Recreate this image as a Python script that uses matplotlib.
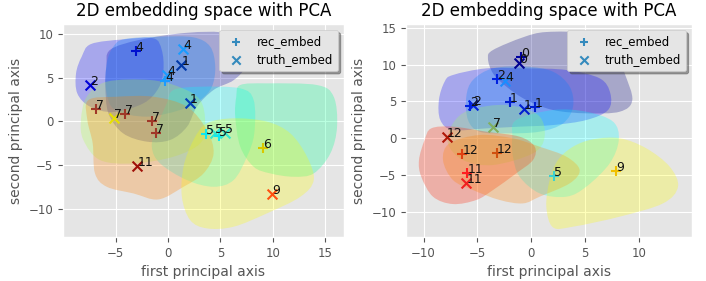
import numpy as np
import matplotlib.pyplot as plt
from matplotlib.path import Path
from matplotlib.patches import PathPatch

plt.style.use('ggplot')

# ---- left panel data ----
left_x = [-3.1, 1.45, 1.25, -0.1, -0.3, -7.45, 2.05, -6.9, -5.2, -4.15, -1.5, -1.2,
          3.6, 4.5, 4.9, 5.4, 9.05, -2.95, 9.9]
left_y = [8.0, 8.3, 6.4, 5.3, 4.6, 4.2, 2.15, 1.4, 0.35, 0.85, 0.0, -1.35,
          -1.42, -1.27, -1.65, -1.27, -3.0, -5.05, -8.2]
left_kind = ['rec', 'truth', 'truth', 'truth', 'rec', 'truth', 'truth', 'rec', 'truth', 'rec', 'rec', 'rec',
             'rec', 'truth', 'rec', 'truth', 'rec', 'truth', 'truth']
left_lab = ['4', '4', '1', '4', '4', '2', '1', '7', '7', '7', '7', '7',
            '5', '5', '5', '5', '6', '11', '9']
left_col = ['#0010d0', '#1a9cff', '#0038a8', '#1a9cff', '#1a9cff', '#0000d8', '#0040b8', '#a03828', '#e8e000',
            '#a03828', '#a03828', '#a03828', '#10e8f0', '#30e8d0', '#10e8f0', '#30e8d0', '#d8c800', '#a01008', '#ff5010']

left_blobs = [
    ('#0000a0', [(-5.55, 8.15), (-2.7, 9.3), (1.8, 10.1), (5.6, 10.05), (7.2, 8.5), (7.35, 6.25), (6.25, 4.7),
                 (4.35, 3.6), (2.75, 1.7), (1.8, -0.6), (0.2, -2.1), (-2.0, -2.3), (-4.3, -1.35), (-5.7, 0.9),
                 (-6.0, 4.0), (-5.9, 6.25)]),
    ('#0000ff', [(-7.37, 8.82), (-4.27, 9.35), (-1.4, 9.47), (-0.61, 8.14), (-0.45, 5.86), (-0.93, 3.77),
                 (-2.36, 2.07), (-5.23, 1.08), (-7.46, 1.69), (-8.68, 3.2), (-8.8, 5.48), (-8.26, 7.38)]),
    ('#0080ff', [(-4.15, 9.39), (-0.77, 9.66), (2.42, 9.58), (4.02, 8.52), (4.5, 6.24), (4.18, 3.96),
                 (3.06, 2.44), (1.15, 1.31), (-2.04, 0.55), (-5.07, 1.31), (-5.93, 3.58), (-5.87, 6.62),
                 (-5.23, 8.52)]),
    ('#00ffff', [(0.51, 3.58), (3.06, 3.96), (6.89, 3.77), (8.17, 2.44), (8.23, -1.35), (7.53, -4.01),
                 (6.25, -6.67), (4.34, -7.43), (1.79, -6.67), (-0.77, -4.77), (-1.56, -2.87), (-1.08, -0.59),
                 (-0.13, 2.07)]),
    ('#00ff90', [(6.89, 4.15), (9.44, 4.34), (14.23, 4.15), (15.82, 2.82), (16.14, -0.59), (15.5, -3.63),
                 (13.91, -5.91), (11.99, -6.29), (9.76, -5.91), (8.17, -5.15), (6.89, -2.87), (6.41, 0.55),
                 (6.51, 2.82)]),
    ('#b0ff50', [(-5.87, 4.53), (-1.72, 4.72), (1.15, 3.89), (3.06, 2.44), (3.54, -0.21), (3.06, -2.49),
                 (0.51, -4.01), (-3.32, -4.77), (-6.51, -4.39), (-8.1, -2.11), (-8.33, 0.17), (-7.78, 2.82)]),
    ('#ff8000', [(-7.62, 2.44), (-4.91, 2.82), (-1.4, 2.82), (1.79, 1.69), (3.7, -0.97), (4.34, -3.63),
                 (3.38, -5.91), (1.47, -7.43), (-0.93, -8.87), (-3.32, -8.19), (-5.87, -7.43), (-6.99, -5.91),
                 (-7.21, -2.49), (-7.72, 0.17)]),
    ('#ffff00', [(3.7, -0.21), (6.25, 0.36), (9.44, -0.02), (11.67, -1.35), (13.27, -4.01), (13.91, -6.67),
                 (12.63, -8.57), (9.44, -10.46), (6.25, -11.98), (3.7, -12.17), (2.1, -11.22), (1.31, -8.56),
                 (1.47, -5.15), (2.42, -2.11)]),
]

# ---- right panel data ----
right_x = [-1.18, -0.93, -3.19, -2.42, -5.67, -5.42, -2.01, -0.71, 0.31, -3.56,
           -7.83, -6.41, -3.19, -5.95, -6.04, 2.1, 7.89]
right_y = [10.25, 10.97, 8.0, 7.76, 4.37, 4.5, 4.96, 4.01, 4.28, 1.48,
           0.21, -2.14, -1.96, -4.67, -6.12, -5.08, -4.4]
right_kind = ['truth', 'rec', 'rec', 'truth', 'rec', 'truth', 'rec', 'truth', 'rec', 'truth',
              'truth', 'rec', 'rec', 'rec', 'truth', 'rec', 'rec']
right_lab = ['0', '0', '2', '4', '2', '2', '1', '1', '1', '7',
             '12', '12', '12', '11', '11', '5', '9']
right_col = ['#000090', '#0000a0', '#0020e0', '#1a8cff', '#0020e0', '#0020e0', '#0020d0', '#0020d0', '#0020d0',
             '#80b060', '#b01808', '#e04010', '#d05010', '#ff2020', '#f02020', '#40d0d0', '#f0c000']

right_blobs = [
    ('#000080', [(-4.03, 10.84), (-3.56, 11.97), (-0.78, 13.69), (1.39, 14.41), (5.1, 14.23), (7.58, 12.65),
                 (8.66, 8.8), (9.37, 5.19), (8.2, 3.6), (5.1, 3.38), (2.01, 3.83), (-0.47, 5.19), (-2.32, 7.0),
                 (-3.56, 8.8)]),
    ('#0000ff', [(-7.28, 8.58), (-4.18, 9.48), (-0.47, 9.48), (3.25, 9.26), (6.34, 8.13), (7.33, 6.09),
                 (7.12, 3.83), (5.1, 2.47), (2.01, 1.79), (-1.09, 1.57), (-4.18, 1.34), (-7.28, 1.11),
                 (-8.45, 2.47), (-8.58, 5.19), (-8.05, 7.67)]),
    ('#0080ff', [(-5.42, 7.9), (-3.56, 9.48), (-0.47, 9.71), (2.01, 9.03), (3.56, 7.0), (3.87, 4.28),
                 (2.94, 2.02), (0.77, 0.89), (-2.32, 0.66), (-4.8, 0.89), (-5.88, 2.47), (-6.04, 5.64)]),
    ('#00ffff', [(-1.4, 2.47), (2.01, 3.83), (5.1, 3.6), (7.58, 2.25), (8.11, -0.24), (7.27, -3.41),
                 (5.1, -6.57), (3.25, -7.93), (0.77, -7.48), (-1.09, -5.22), (-1.71, -2.5), (-1.77, 0.21)]),
    ('#a0ff60', [(-5.73, 3.83), (-2.32, 4.51), (0.62, 3.15), (1.23, 0.21), (0.15, -2.05), (-3.56, -3.63),
                 (-6.35, -2.96), (-7.74, -0.69), (-7.28, 2.02)]),
    ('#ff2000', [(-9.29, 1.34), (-7.28, 1.57), (-4.18, 0.89), (-1.09, 0.21), (0.31, -1.15), (0.15, -2.96),
                 (-1.4, -4.76), (-3.56, -7.03), (-5.11, -8.38), (-7.28, -8.93), (-9.13, -7.93), (-10.22, -5.22),
                 (-10.43, -2.96), (-9.91, -0.24)]),
    ('#ff8000', [(-7.59, -0.69), (-4.8, 0.44), (-1.71, -0.02), (0.77, -1.15), (3.25, -2.5), (4.48, -4.31),
                 (3.56, -6.12), (0.77, -7.93), (-0.78, -8.84), (-2.94, -8.38), (-5.42, -7.03), (-7.28, -5.67),
                 (-8.2, -2.96)]),
    ('#ffff00', [(3.87, -1.15), (5.72, -0.15), (8.2, 0.0), (10.67, -1.37), (12.84, -3.86), (13.61, -6.57),
                 (12.22, -8.84), (8.2, -10.64), (3.87, -12.0), (2.01, -12.09), (1.39, -9.29), (1.7, -5.67),
                 (2.47, -2.96)]),
]


def blob_path(pts):
    # closed smooth outline through the vertices (catmull-rom as cubic beziers)
    p = np.array(pts)
    n = len(p)
    verts = [p[0]]
    codes = [Path.MOVETO]
    for i in range(n):
        p0, p1, p2, p3 = p[i - 1], p[i], p[(i + 1) % n], p[(i + 2) % n]
        verts += [p1 + (p2 - p0) / 6, p2 - (p3 - p1) / 6, p2]
        codes += [Path.CURVE4] * 3
    return Path(verts, codes)


def draw_panel(ax, xs, ys, kinds, labs, cols, blobs, xlim, ylim, xticks, yticks):
    for c, pts in blobs:
        ax.add_patch(PathPatch(blob_path(pts), facecolor=c, edgecolor='none', alpha=0.27))
    for x, y, k, l, c in zip(xs, ys, kinds, labs, cols):
        ax.scatter(x, y, marker='+' if k == 'rec' else 'x', color=c, s=50, linewidths=1.5, zorder=3)
        ax.text(x, y, l, fontsize=9, color='#111111', zorder=4)
    # legend handles
    ax.scatter([], [], marker='+', color='#348ABD', label='rec_embed')
    ax.scatter([], [], marker='x', color='#348ABD', label='truth_embed')
    ax.legend(loc='upper right', fontsize=8.5, shadow=True, fancybox=True, framealpha=1,
              facecolor='#E5E5E5', edgecolor='#cccccc')
    ax.set_xlim(xlim)
    ax.set_ylim(ylim)
    ax.set_xticks(xticks)
    ax.set_yticks(yticks)
    ax.tick_params(labelsize=8.5)
    ax.set_xlabel('first principal axis', fontsize=10)
    ax.set_ylabel('second principal axis', fontsize=10)
    ax.set_title('2D embedding space with PCA', fontsize=12)


fig = plt.figure(figsize=(7.06, 2.81), dpi=100)
ax1 = fig.add_axes([0.0892, 0.1566, 0.398, 0.758])
ax2 = fig.add_axes([0.575, 0.1566, 0.405, 0.758])

draw_panel(ax1, left_x, left_y, left_kind, left_lab, left_col, left_blobs,
           (-10.05, 16.8), (-13.15, 11.1), [-5, 0, 5, 10, 15], [-10, -5, 0, 5, 10])
draw_panel(ax2, right_x, right_y, right_kind, right_lab, right_col, right_blobs,
           (-11.64, 14.9), (-13.4, 15.5), [-10, -5, 0, 5, 10], [-10, -5, 0, 5, 10, 15])

plt.savefig('out.png', dpi=100)
